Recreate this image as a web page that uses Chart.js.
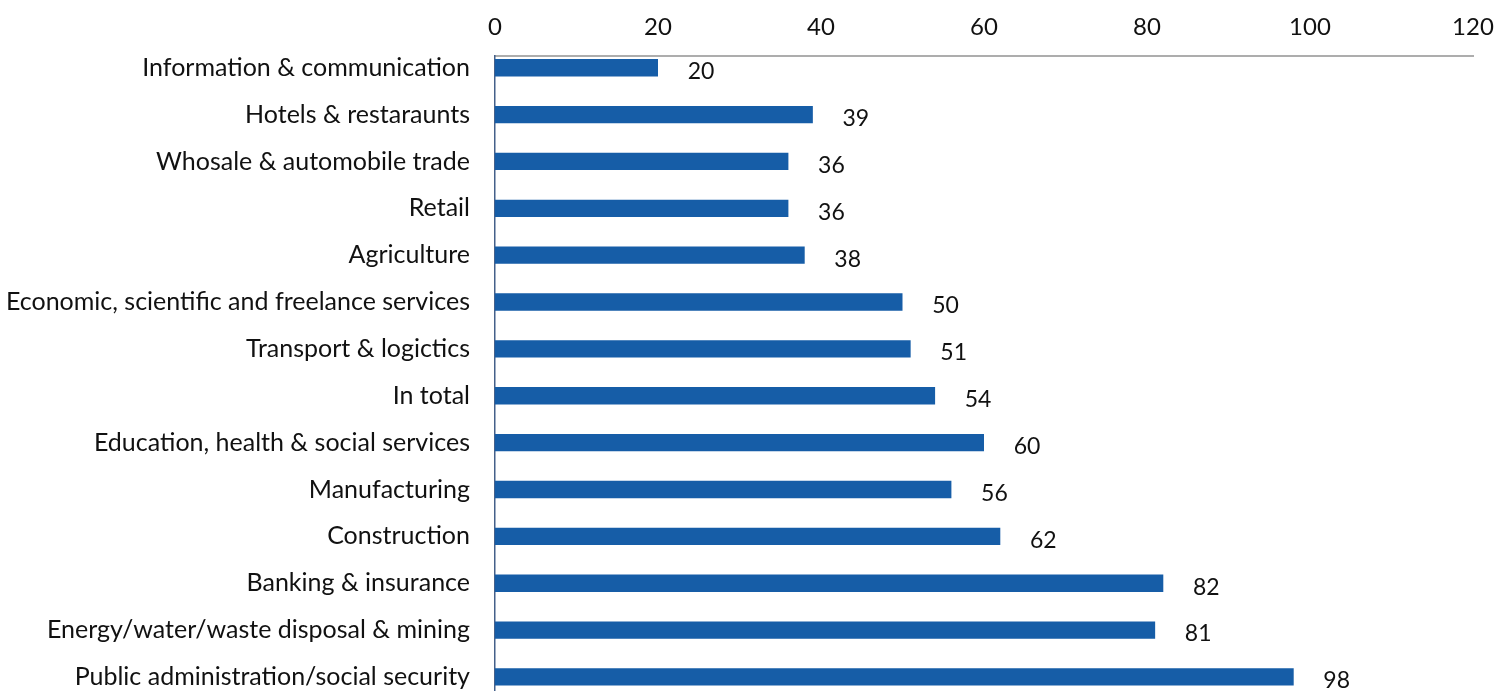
<!DOCTYPE html>
<html>
<head>
<meta charset="utf-8">
<script src="https://cdn.jsdelivr.net/npm/chart.js@4.4.1/dist/chart.umd.min.js"></script>
<style>
    html, body { margin: 0; padding: 0; background: #fff; overflow: hidden; }
    #wrap { position: relative; width: 1510px; height: 691px; }
</style>
</head>
<body>
<div id="wrap"><canvas id="sector-chart"></canvas></div>
<script>
const categories = [
    'Information & communication',
    'Hotels & restaraunts',
    'Whosale & automobile trade',
    'Retail',
    'Agriculture',
    'Economic, scientific and freelance services',
    'Transport & logictics',
    'In total',
    'Education, health & social services',
    'Manufacturing',
    'Construction',
    'Banking & insurance',
    'Energy/water/waste disposal & mining',
    'Public administration/social security'
];
const values = [20, 39, 36, 36, 38, 50, 51, 54, 60, 56, 62, 82, 81, 98];
const xTicks = [0, 20, 40, 60, 80, 100, 120];

const FONT = 'Lato, "Open Sans", sans-serif';
const BAR_BLUE = '#165da7';

// Value labels to the right of each bar end
const barValueLabels = {
    id: 'barValueLabels',
    afterDatasetsDraw(chart) {
        const ctx = chart.ctx;
        const meta = chart.getDatasetMeta(0);
        ctx.save();
        ctx.font = '23px ' + FONT;
        ctx.fillStyle = '#111';
        ctx.textAlign = 'center';
        ctx.textBaseline = 'middle';
        meta.data.forEach((bar, i) => {
            ctx.fillText(String(values[i]), bar.x + 43, bar.y + 4);
        });
        ctx.restore();
    }
};

// fixed axis sizes, no edge padding for overhanging labels
const noEdgePad = s => {
    s.paddingTop = 0;
    s.paddingBottom = 0;
    s.paddingLeft = 0;
    s.paddingRight = 0;
};

new Chart(document.getElementById('sector-chart'), {
    type: 'bar',
    data: {
        datasets: [{
            data: values.map((v, i) => ({ x: v, y: i })),
            backgroundColor: BAR_BLUE,
            borderWidth: 0,
            categoryPercentage: 1,
            barPercentage: 0.37
        }]
    },
    options: {
        indexAxis: 'y',
        responsive: true,
        maintainAspectRatio: false,
        animation: false,
        layout: { padding: { top: 0, right: 37, bottom: 0, left: 0 } },
        plugins: { legend: { display: false }, tooltip: { enabled: false } },
        scales: {
            x: {
                position: 'top',
                min: 0,
                max: 120,
                afterBuildTicks: s => { s.ticks = xTicks.map(v => ({ value: v })); },
                afterFit: s => { s.height = 56; noEdgePad(s); },
                grid: { display: false, drawTicks: false, tickLength: 0 },
                border: { display: true, color: '#adadad', width: 2 },
                ticks: { color: '#111', font: { family: FONT, size: 24 }, padding: 14 }
            },
            y: {
                type: 'linear',
                reverse: true,
                offset: false,
                min: -0.25,
                max: 13.3,
                afterBuildTicks: s => { s.ticks = categories.map((c, i) => ({ value: i })); },
                afterFit: s => { s.width = 495; noEdgePad(s); },
                grid: { display: false, drawTicks: false, tickLength: 0 },
                border: { display: true, color: '#44608a', width: 1.5 },
                ticks: {
                    autoSkip: false,
                    color: '#111',
                    font: { family: FONT, size: 25 },
                    padding: 25,
                    callback: v => categories[v]
                }
            }
        }
    },
    plugins: [barValueLabels]
});
</script>
</body>
</html>
